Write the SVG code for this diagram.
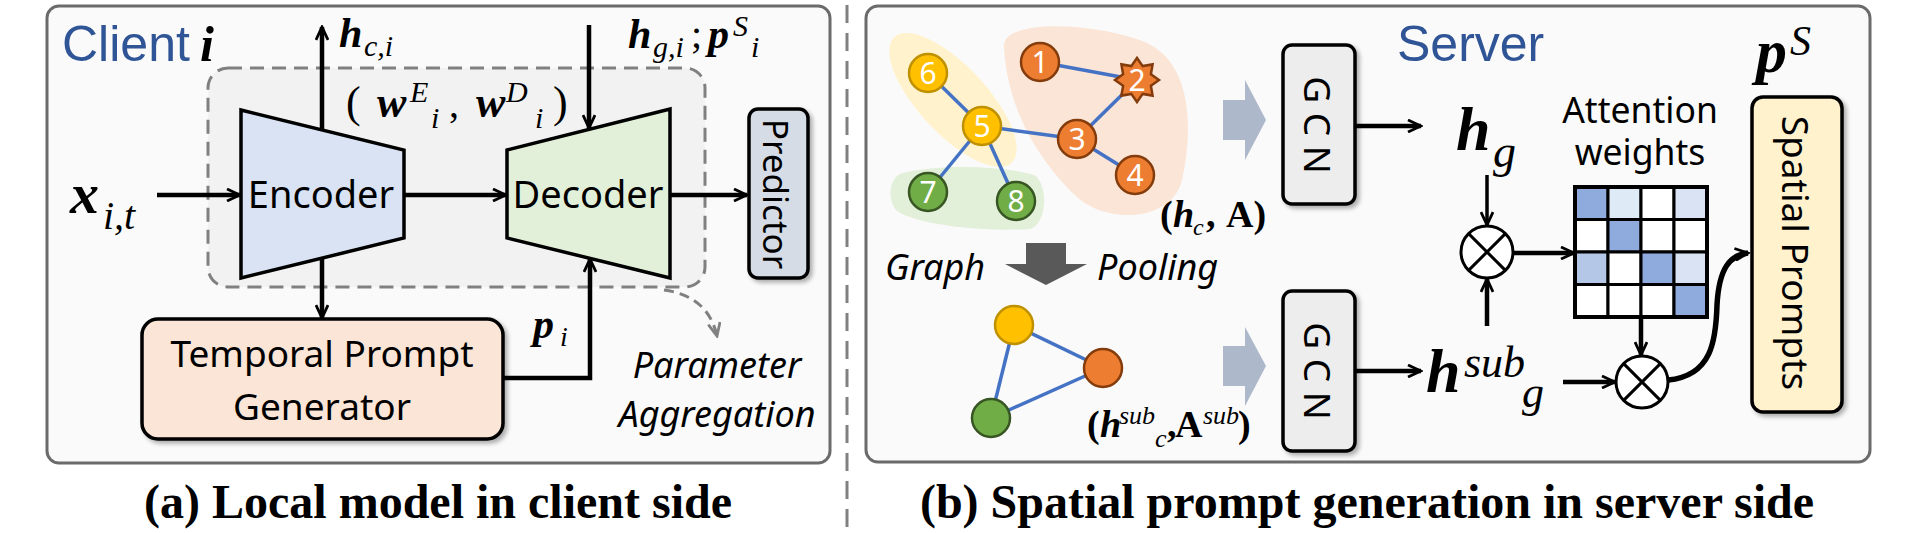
<svg xmlns="http://www.w3.org/2000/svg" width="1915" height="533" viewBox="0 0 1915 533">
<defs>
<style>
.panel{fill:#fafafa;stroke:#6b6b6b;stroke-width:3}
.sans{font-family:"Noto Sans","Liberation Sans",sans-serif;fill:#000}
.title{font-family:"Liberation Sans",Arial,sans-serif;fill:#2f5597;font-size:50px}
.cap{font-family:"Liberation Serif","Times New Roman",serif;font-weight:bold;font-size:48px;fill:#000}
.mbi{font-family:"Liberation Serif","Times New Roman",serif;font-style:italic;font-weight:bold;fill:#000}
.mi{font-family:"Liberation Serif","Times New Roman",serif;font-style:italic;fill:#000}
.mr{font-family:"Liberation Serif","Times New Roman",serif;fill:#000}
.mb{font-family:"Liberation Serif","Times New Roman",serif;font-weight:bold;fill:#000}
.box{stroke:#000;stroke-width:3.5}
.arr{fill:none;stroke:#000;stroke-width:4.5;marker-end:url(#ah)}
.arrt{fill:none;stroke:#000;stroke-width:3.5;marker-end:url(#ah)}
.edge{stroke:#4472c4;stroke-width:3.5}
.num{font-family:"Noto Sans","Liberation Sans",sans-serif;font-size:30px;fill:#fff;text-anchor:middle}
.ny{fill:#ffc000;stroke:#bf9000;stroke-width:2.5}
.no{fill:#ed7d31;stroke:#843c0c;stroke-width:2.5}
.ng{fill:#70ad47;stroke:#375623;stroke-width:2.5}
.cell{stroke:#000;stroke-width:3}
.otimes{fill:#fff;stroke:#000;stroke-width:3}
</style>
<marker id="ah" viewBox="0 0 16 14" refX="14" refY="7" markerWidth="16" markerHeight="14" markerUnits="userSpaceOnUse" orient="auto">
<path d="M1,1 L14,7 L1,13" fill="none" stroke="#000" stroke-width="2.8"/>
</marker>
<marker id="ahg" viewBox="0 0 16 14" refX="14" refY="7" markerWidth="16" markerHeight="14" markerUnits="userSpaceOnUse" orient="auto">
<path d="M1,1 L14,7 L1,13" fill="none" stroke="#808080" stroke-width="2.8"/>
</marker>
<filter id="sh" x="-10%" y="-10%" width="130%" height="130%">
<feDropShadow dx="3" dy="3" stdDeviation="2" flood-color="#000" flood-opacity="0.3"/>
</filter>
</defs>

<!-- panels -->
<rect class="panel" x="47" y="6" width="783" height="457" rx="12"/>
<rect class="panel" x="866" y="6" width="1004" height="456" rx="12"/>
<line x1="847" y1="5" x2="847" y2="528" stroke="#808080" stroke-width="3" stroke-dasharray="18 10"/>

<text class="title" x="62" y="61">Client</text>
<text class="mbi" x="200" y="61" font-size="50">i</text>
<text class="title" x="1397" y="61">Server</text>

<!-- local model dashed region -->
<rect x="208" y="68" width="497" height="219" rx="20" fill="#f2f2f2" stroke="#808080" stroke-width="3" stroke-dasharray="14 8"/>
<g id="params">
<text class="mr" x="346" y="117" font-size="44">(</text>
<text class="mbi" x="377" y="117" font-size="44">w</text>
<text class="mi" x="410" y="102" font-size="30">E</text>
<text class="mi" x="431" y="128" font-size="30">i</text>
<text class="mr" x="449" y="117" font-size="40">,</text>
<text class="mbi" x="476" y="117" font-size="44">w</text>
<text class="mi" x="506" y="102" font-size="30">D</text>
<text class="mi" x="535" y="128" font-size="30">i</text>
<text class="mr" x="553" y="117" font-size="44">)</text>
</g>

<g id="connectors-a">
<line class="arr" x1="157" y1="195" x2="240" y2="195"/>
<line class="arr" x1="404" y1="195" x2="506" y2="195"/>
<line class="arr" x1="670" y1="195" x2="747" y2="195"/>
<line class="arr" x1="322" y1="130" x2="322" y2="27"/>
<line class="arr" x1="589" y1="25" x2="589" y2="128"/>
<line class="arr" x1="322" y1="258" x2="322" y2="318"/>
<polyline class="arr" points="503,378 590,378 590,259"/>
<path d="M664,290 Q708,296 717,336" fill="none" stroke="#808080" stroke-width="3" stroke-dasharray="10 6" marker-end="url(#ahg)"/>
</g>

<g id="encoder">
<polygon class="box" points="241,110 404,150 404,238 241,278" fill="#dae3f3"/>
<text class="sans" x="321" y="208" font-size="38" text-anchor="middle">Encoder</text>
</g>
<g id="decoder">
<polygon class="box" points="507,150 670,109 670,278 507,238" fill="#e2f0d9"/>
<text class="sans" x="588" y="208" font-size="38" text-anchor="middle">Decoder</text>
</g>
<g id="predictor">
<rect class="box" x="749" y="109" width="59" height="169" rx="9" fill="#d6dce5" filter="url(#sh)"/>
<text class="sans" transform="translate(776,194) rotate(90)" font-size="35" text-anchor="middle" dominant-baseline="central">Predictor</text>
</g>
<g id="tpg">
<rect class="box" x="142" y="319" width="361" height="120" rx="16" fill="#fbe5d6" filter="url(#sh)"/>
<text class="sans" x="322" y="367" font-size="37" text-anchor="middle">Temporal Prompt</text>
<text class="sans" x="322" y="420" font-size="37" text-anchor="middle">Generator</text>
</g>

<g id="labels-a">
<text class="mbi" x="70" y="213" font-size="58">x</text>
<text class="mi" x="103" y="229" font-size="40">i,t</text>
<text class="mbi" x="339" y="47" font-size="42">h</text>
<text class="mi" x="364" y="56" font-size="30">c,i</text>
<text class="mbi" x="628" y="48" font-size="42">h</text>
<text class="mi" x="653" y="57" font-size="30">g,i</text>
<text class="mr" x="691" y="48" font-size="40">;</text>
<text class="mbi" x="708" y="48" font-size="42">p</text>
<text class="mi" x="733" y="36" font-size="30">S</text>
<text class="mi" x="751" y="57" font-size="30">i</text>
<text class="mbi" x="533" y="338" font-size="42">p</text>
<text class="mi" x="560" y="346" font-size="28">i</text>
<text class="sans" x="717" y="378" font-size="36" font-style="italic" text-anchor="middle">Parameter</text>
<text class="sans" x="717" y="427" font-size="36" font-style="italic" text-anchor="middle">Aggregation</text>
</g>

<text class="cap" x="438" y="518" text-anchor="middle">(a) Local model in client side</text>

<!-- server side -->
<g id="graph">
<ellipse cx="953" cy="100" rx="86" ry="34" transform="rotate(47 953 100)" fill="#fff2cc"/>
<path d="M1004,48 C1000,18 1095,22 1145,42 C1195,64 1192,135 1182,180 C1172,222 1108,224 1078,198 C1040,162 1008,112 1004,48 Z" fill="#fbe5d6"/>
<path d="M900,174 C935,163 1010,166 1036,176 C1049,190 1046,224 1030,229 C990,232 920,226 897,211 C887,200 889,180 900,174 Z" fill="#e2efd9"/>
<line class="edge" x1="1040" y1="62" x2="1137" y2="80"/>
<line class="edge" x1="1137" y1="80" x2="1077" y2="139"/>
<line class="edge" x1="1077" y1="139" x2="1135" y2="175"/>
<line class="edge" x1="982" y1="126" x2="1077" y2="139"/>
<line class="edge" x1="982" y1="126" x2="928" y2="73"/>
<line class="edge" x1="982" y1="126" x2="928" y2="192"/>
<line class="edge" x1="982" y1="126" x2="1016" y2="201"/>
<g id="n1"><circle class="no" cx="1040" cy="62" r="19"/><text class="num" x="1040" y="73">1</text></g>
<g id="n2"><polygon class="no" points="1137,58 1142.7,66.1 1152.6,64.4 1150.9,74.3 1159,80 1150.9,85.7 1152.6,95.6 1142.7,93.9 1137,102 1131.3,93.9 1121.4,95.6 1123.1,85.7 1115,80 1123.1,74.3 1121.4,64.4 1131.3,66.1"/><text class="num" x="1137" y="91">2</text></g>
<g id="n3"><circle class="no" cx="1077" cy="139" r="19"/><text class="num" x="1077" y="150">3</text></g>
<g id="n4"><circle class="no" cx="1135" cy="175" r="19"/><text class="num" x="1135" y="186">4</text></g>
<g id="n5"><circle class="ny" cx="982" cy="126" r="19"/><text class="num" x="982" y="137">5</text></g>
<g id="n6"><circle class="ny" cx="928" cy="73" r="19"/><text class="num" x="928" y="84">6</text></g>
<g id="n7"><circle class="ng" cx="928" cy="192" r="19"/><text class="num" x="928" y="203">7</text></g>
<g id="n8"><circle class="ng" cx="1016" cy="201" r="19"/><text class="num" x="1016" y="212">8</text></g>
</g>
<g id="graph-label">
<text class="mb" x="1160" y="227" font-size="38">(</text>
<text class="mbi" x="1173" y="227" font-size="38">h</text>
<text class="mi" x="1193" y="235" font-size="24">c</text>
<text class="mb" x="1206" y="227" font-size="38">,</text>
<text class="mb" x="1226" y="227" font-size="38">A)</text>
</g>

<g id="pooling">
<polygon points="1026,243 1066,243 1066,264 1087,264 1046,285 1005,264 1026,264" fill="#595959"/>
<text class="sans" x="885" y="280" font-size="36" font-style="italic">Graph</text>
<text class="sans" x="1097" y="280" font-size="36" font-style="italic">Pooling</text>
</g>

<g id="subgraph">
<line class="edge" x1="1014" y1="325" x2="1103" y2="368"/>
<line class="edge" x1="1103" y1="368" x2="991" y2="418"/>
<line class="edge" x1="1014" y1="325" x2="991" y2="418"/>
<circle class="ny" cx="1014" cy="325" r="19"/>
<circle class="no" cx="1103" cy="368" r="19"/>
<circle class="ng" cx="991" cy="418" r="19"/>
</g>
<g id="subgraph-label">
<text class="mb" x="1087" y="437" font-size="38">(</text>
<text class="mbi" x="1100" y="437" font-size="38">h</text>
<text class="mi" x="1119" y="424" font-size="26">sub</text>
<text class="mi" x="1155" y="447" font-size="26">c</text>
<text class="mb" x="1167" y="437" font-size="38">,</text>
<text class="mb" x="1175" y="437" font-size="38">A</text>
<text class="mi" x="1203" y="424" font-size="26">sub</text>
<text class="mb" x="1238" y="437" font-size="38">)</text>
</g>

<g id="fat-arrows">
<polygon points="1223,100 1245,100 1245,80 1266,120 1245,160 1245,140 1223,140" fill="#adb9ca"/>
<polygon points="1223,346 1245,346 1245,327 1266,366 1245,406 1245,386 1223,386" fill="#adb9ca"/>
</g>

<g id="gcn1">
<rect class="box" x="1283" y="45" width="72" height="159" rx="9" fill="#ededed" filter="url(#sh)"/>
<text class="sans" transform="translate(1318,125) rotate(90)" font-size="37" text-anchor="middle" dominant-baseline="central">G C N</text>
</g>
<g id="gcn2">
<rect class="box" x="1283" y="291" width="72" height="160" rx="9" fill="#ededed" filter="url(#sh)"/>
<text class="sans" transform="translate(1318,371) rotate(90)" font-size="37" text-anchor="middle" dominant-baseline="central">G C N</text>
</g>

<g id="hg">
<text class="mbi" x="1456" y="150" font-size="62">h</text>
<text class="mi" x="1493" y="167" font-size="46">g</text>
</g>
<g id="hsub">
<text class="mbi" x="1426" y="392" font-size="62">h</text>
<text class="mi" x="1464" y="377" font-size="44">sub</text>
<text class="mi" x="1522" y="407" font-size="44">g</text>
</g>

<g id="otimes1">
<circle class="otimes" cx="1487" cy="252" r="26"/>
<line x1="1468.6" y1="233.6" x2="1505.4" y2="270.4" stroke="#000" stroke-width="3"/>
<line x1="1505.4" y1="233.6" x2="1468.6" y2="270.4" stroke="#000" stroke-width="3"/>
</g>
<g id="otimes2">
<circle class="otimes" cx="1642" cy="382" r="26"/>
<line x1="1623.6" y1="363.6" x2="1660.4" y2="400.4" stroke="#000" stroke-width="3"/>
<line x1="1660.4" y1="363.6" x2="1623.6" y2="400.4" stroke="#000" stroke-width="3"/>
</g>

<g id="attention">
<text class="sans" x="1640" y="123" font-size="35.5" text-anchor="middle">Attention</text>
<text class="sans" x="1640" y="165" font-size="35.5" text-anchor="middle">weights</text>
<rect class="cell" x="1575" y="187" width="33" height="32.5" fill="#8faadc"/>
<rect class="cell" x="1608" y="187" width="33" height="32.5" fill="#deebf7"/>
<rect class="cell" x="1641" y="187" width="33" height="32.5" fill="#fff"/>
<rect class="cell" x="1674" y="187" width="33" height="32.5" fill="#dae3f3"/>
<rect class="cell" x="1575" y="219.5" width="33" height="32.5" fill="#fff"/>
<rect class="cell" x="1608" y="219.5" width="33" height="32.5" fill="#8faadc"/>
<rect class="cell" x="1641" y="219.5" width="33" height="32.5" fill="#fff"/>
<rect class="cell" x="1674" y="219.5" width="33" height="32.5" fill="#fff"/>
<rect class="cell" x="1575" y="252" width="33" height="32.5" fill="#b4c7e7"/>
<rect class="cell" x="1608" y="252" width="33" height="32.5" fill="#fff"/>
<rect class="cell" x="1641" y="252" width="33" height="32.5" fill="#8faadc"/>
<rect class="cell" x="1674" y="252" width="33" height="32.5" fill="#dae3f3"/>
<rect class="cell" x="1575" y="284.5" width="33" height="32.5" fill="#fff"/>
<rect class="cell" x="1608" y="284.5" width="33" height="32.5" fill="#fff"/>
<rect class="cell" x="1641" y="284.5" width="33" height="32.5" fill="#fff"/>
<rect class="cell" x="1674" y="284.5" width="33" height="32.5" fill="#8faadc"/>
<rect x="1575" y="187" width="132" height="130" fill="none" stroke="#000" stroke-width="4"/>
</g>

<g id="spatial">
<rect class="box" x="1752" y="97" width="90" height="315" rx="11" fill="#fff2cc" filter="url(#sh)"/>
<text class="sans" transform="translate(1796,253) rotate(90)" font-size="37" text-anchor="middle" dominant-baseline="central">Spatial Prompts</text>
<text class="mbi" x="1756" y="72" font-size="62">p</text>
<text class="mi" x="1790" y="55" font-size="42">S</text>
</g>

<g id="connectors-b">
<line class="arr" x1="1355" y1="126" x2="1421" y2="126"/>
<line class="arr" x1="1355" y1="371" x2="1421" y2="371"/>
<line class="arrt" x1="1487" y1="175" x2="1487" y2="225"/>
<line class="arr" x1="1487" y1="326" x2="1487" y2="279"/>
<line class="arr" x1="1513" y1="253" x2="1574" y2="253"/>
<line class="arr" x1="1641" y1="317" x2="1641" y2="355"/>
<line class="arr" x1="1563" y1="382" x2="1615" y2="382"/>
<path d="M1668,380 C1712,376 1716,340 1717,305 C1719,268 1730,255 1748,253" fill="none" stroke="#000" stroke-width="5.5" marker-end="url(#ah)"/>
</g>

<text class="cap" x="1367" y="518" text-anchor="middle">(b) Spatial prompt generation in server side</text>
</svg>
